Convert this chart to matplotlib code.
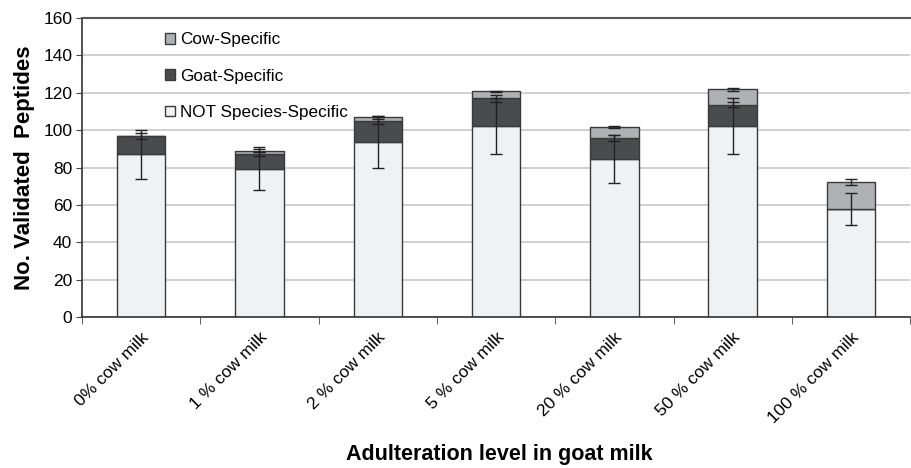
import numpy as np
import matplotlib.pyplot as plt

plt.rcParams['font.family'] = ['Liberation Sans', 'DejaVu Sans']

# значения
levels = ['0% cow milk', '1 % cow milk', '2 % cow milk', '5 % cow milk',
          '20 % cow milk', '50 % cow milk', '100 % cow milk']
not_specific = [87, 79.3, 93.7, 102.3, 84.5, 102.3, 57.9]
goat_specific = [10, 7.9, 11.3, 14.7, 11.4, 11.4, 0]
cow_specific = [0, 1.9, 1.8, 3.7, 5.9, 8.1, 14.3]
not_err = [13.3, 11.5, 14, 15, 13, 15, 8.5]
goat_err = [1.5, 1.2, 1.8, 2, 1.5, 1.5, 0]
cow_err = [0, 0.8, 0.8, 0.5, 0.5, 0.9, 1.8]

x = np.arange(len(levels))
not_v = np.array(not_specific)
goat_v = np.array(goat_specific)
cow_v = np.array(cow_specific)

fig = plt.figure(figsize=(9.12, 4.68), dpi=100)
ax = fig.add_axes([0.0899, 0.3226, 0.9081, 0.6389])

w = 0.41
edge = '#3a3a3a'
b1 = ax.bar(x, not_v, w, color='#f0f1f3', edgecolor=edge, linewidth=1, zorder=2,
            label='NOT Species-Specific')
b2 = ax.bar(x, goat_v, w, bottom=not_v, color='#4a4b4d', edgecolor=edge, linewidth=1,
            zorder=2, label='Goat-Specific')
b3 = ax.bar(x, cow_v, w, bottom=not_v + goat_v, color='#b0b1b4', edgecolor=edge,
            linewidth=1, zorder=2, label='Cow-Specific')

# планки погрешностей
ek = dict(fmt='none', ecolor='#222222', elinewidth=1, capsize=4, capthick=1, zorder=3)
ax.errorbar(x, not_v, yerr=not_err, **ek)
m = goat_v > 0
ax.errorbar(x[m], (not_v + goat_v)[m], yerr=np.array(goat_err)[m], **ek)
m = cow_v > 0
ax.errorbar(x[m], (not_v + goat_v + cow_v)[m], yerr=np.array(cow_err)[m], **ek)

ax.set_xlim(-0.5, len(levels) - 0.5)
ax.set_ylim(0, 160)
ax.set_yticks(np.arange(0, 161, 20))
ax.yaxis.grid(True, color='#c8c8c8', linewidth=1.2, zorder=0)
ax.set_axisbelow(True)

ax.set_xticks(x)
ax.set_xticklabels(levels, rotation=45, ha='right', rotation_mode='anchor', fontsize=12.5)
ax.set_xticks(np.arange(-0.5, len(levels), 1), minor=True)
ax.tick_params(axis='x', which='major', length=0, pad=9)
ax.tick_params(axis='x', which='minor', length=5, color='#444444')
ax.tick_params(axis='y', length=4, color='#444444', labelsize=12.5, pad=3)

for s in ['left', 'bottom']:
    ax.spines[s].set_color('#333333')
    ax.spines[s].set_linewidth(1.2)
ax.spines['top'].set_color('#555555')
ax.spines['top'].set_linewidth(1.5)
ax.spines['right'].set_visible(False)

ax.set_ylabel('No. Validated  Peptides', fontsize=16, fontweight='bold', labelpad=6)
fig.text(0.548, 0.028, 'Adulteration level in goat milk', fontsize=15.5,
         fontweight='bold', ha='center', va='center')

leg = ax.legend([b3, b2, b1], ['Cow-Specific', 'Goat-Specific', 'NOT Species-Specific'],
                loc='upper left', bbox_to_anchor=(0.1, 0.952), frameon=False,
                fontsize=12.3, handlelength=0.6, handleheight=0.6,
                handletextpad=0.3, labelspacing=1.25, borderpad=0, borderaxespad=0)

plt.savefig('out.png', dpi=100)
